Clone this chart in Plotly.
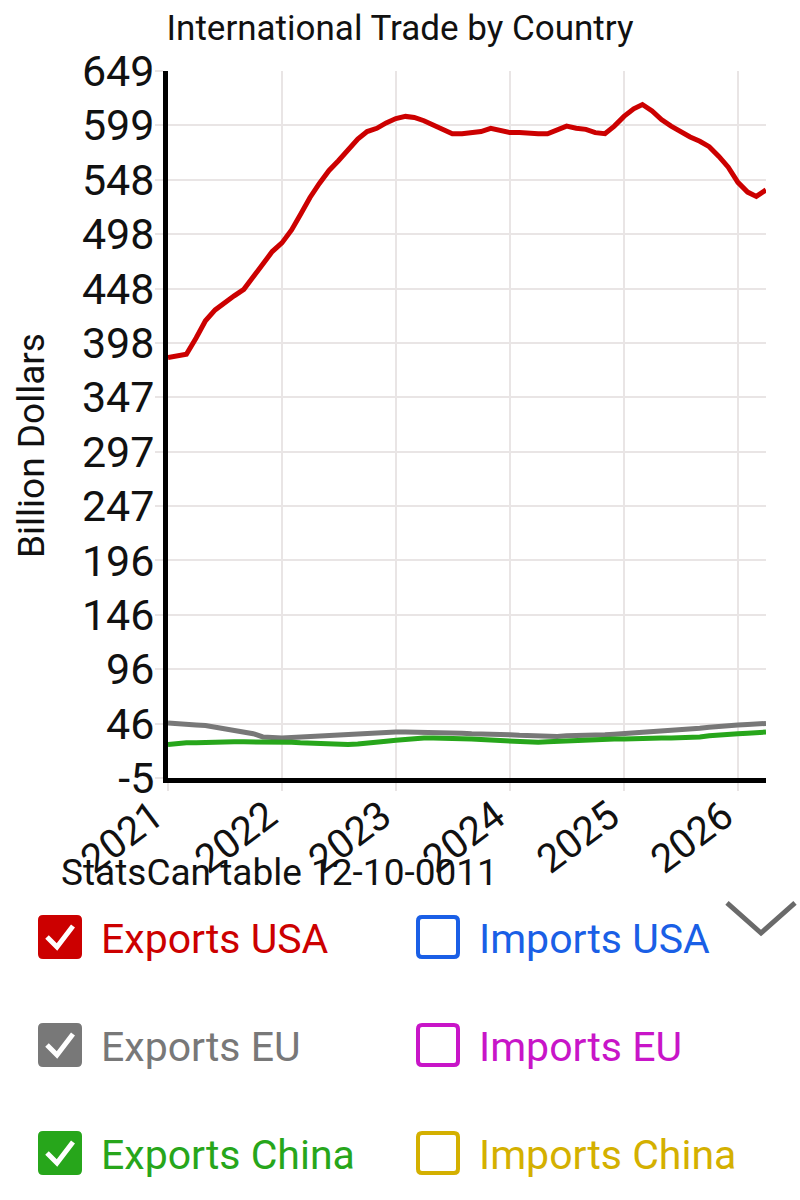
import pandas as pd
import plotly.graph_objects as go

# monthly values, Jan 2021 .. Apr 2026 (billion dollars)
months = pd.date_range("2021-01-01", "2026-04-01", freq="MS")

exports_usa = [
    384, 385, 387, 402, 418, 428, 435, 441, 447, 458, 471, 482,
    490, 502, 516, 532, 545, 557, 566, 576, 586, 593, 596, 601,
    605, 607, 606, 603, 599, 594, 591, 591, 592, 593, 596, 594,
    592, 592, 591, 591, 591, 595, 598, 596, 595, 592, 591, 598,
    607, 614, 618, 612, 604, 598, 593, 588, 584, 579, 570, 560,
    546, 537, 533, 539,
]
exports_eu = [
    46, 45, 44.5, 44, 43.5, 42, 41, 39.5, 38, 36, 33, 32,
    32, 32.5, 33, 33.5, 34, 34, 35, 35.5, 36, 36.5, 37, 37,
    37.5, 37.5, 37.5, 37.5, 37.5, 37, 37, 36.5, 36, 36, 35.5, 35.5,
    35, 34.5, 34, 34, 33.5, 33.5, 34, 34, 34.5, 35, 35, 35.5,
    36, 36.5, 37.5, 38, 39, 39.5, 40, 40.5, 41, 42, 43, 43.5,
    44, 44.5, 45, 45.5,
]
exports_china = [
    26, 27, 27.5, 27.5, 28, 28, 28, 28.5, 28.5, 28.5, 29, 29,
    28.5, 28, 27.5, 27, 26.5, 26, 26, 26, 26.5, 27, 28, 29,
    30, 31, 31.5, 32, 32, 32, 32, 31.5, 31, 30.5, 30, 29.5,
    29, 28.5, 28, 28, 28.5, 29, 29.5, 30, 30, 30.5, 30.5, 31,
    31, 31.5, 32, 32, 32, 32, 32, 32, 33, 34, 35, 35.5,
    36, 36.5, 37, 37.5,
]

y_min, y_max = -5, 649
y_tick_labels = ["-5", "46", "96", "146", "196", "247", "297",
                 "347", "398", "448", "498", "548", "599", "649"]

legend_labels = ["Exports USA", "Imports USA", "Exports EU",
                 "Imports EU", "Exports China", "Imports China"]
legend_colors = ["#cc0000", "#1a5fe6", "#787878",
                 "#c815c8", "#27a61b", "#d4b000"]
legend_checked = [True, False, True, False, True, False]

FONT = "Roboto"
GRID = "#e9e5e5"

# plot area in pixels, used to place the hand drawn legend
PL, PR, PT, PB = 168, 766, 71, 778


def px(x):
    return (x - PL) / (PR - PL)


def py(y):
    return (PB - y) / (PB - PT)


def rounded_box(x0, y0, x1, y1, r):
    pts = [
        ("M", x0 + r, y0), ("L", x1 - r, y0), ("Q", x1, y0, x1, y0 + r),
        ("L", x1, y1 - r), ("Q", x1, y1, x1 - r, y1), ("L", x0 + r, y1),
        ("Q", x0, y1, x0, y1 - r), ("L", x0, y0 + r), ("Q", x0, y0, x0 + r, y0),
    ]
    out = ""
    for p in pts:
        cmd, coords = p[0], p[1:]
        xy = []
        for i in range(0, len(coords), 2):
            xy.append(f"{px(coords[i]):.5f},{py(coords[i + 1]):.5f}")
        out += cmd + " ".join(xy) + " "
    return out + "Z"


fig = go.Figure()
fig.add_trace(go.Scatter(x=months, y=exports_usa, name="Exports USA",
                         mode="lines", line=dict(color=legend_colors[0], width=5)))
fig.add_trace(go.Scatter(x=months, y=exports_eu, name="Exports EU",
                         mode="lines", line=dict(color=legend_colors[2], width=5)))
fig.add_trace(go.Scatter(x=months, y=exports_china, name="Exports China",
                         mode="lines", line=dict(color=legend_colors[4], width=5)))

step = (y_max - y_min) / (len(y_tick_labels) - 1)
y_tick_vals = [y_min + i * step for i in range(len(y_tick_labels))]

fig.update_layout(
    width=800,
    height=1200,
    margin=dict(l=PL, r=800 - PR, t=PT, b=1200 - PB, autoexpand=False),
    paper_bgcolor="white",
    plot_bgcolor="white",
    showlegend=False,
    font=dict(family=FONT, color="#111111"),
    title=dict(text="International Trade by Country", x=0.5, xref="container",
               y=1 - 28 / 1200, yref="container", yanchor="middle",
               font=dict(size=35, color="#111111")),
    xaxis=dict(
        type="date", range=[months[0], months[-1]],
        tick0="2021-01-01", dtick="M12", tickformat="%Y",
        tickangle=-37, tickfont=dict(size=40),
        ticklabelstandoff=-14, ticklabelshift=-14,
        showgrid=True, gridcolor=GRID, gridwidth=2,
        ticks="outside", ticklen=8, tickcolor=GRID, tickwidth=2,
        showline=True, linecolor="black", linewidth=5,
        zeroline=False,
    ),
    yaxis=dict(
        range=[y_min, y_max], tickvals=y_tick_vals, ticktext=y_tick_labels,
        tickfont=dict(size=43), ticklabelstandoff=-8,
        showgrid=True, gridcolor=GRID, gridwidth=2,
        ticks="outside", ticklen=8, tickcolor=GRID, tickwidth=2,
        showline=True, linecolor="black", linewidth=5,
        zeroline=False,
    ),
)

annotations = [
    dict(text="Billion Dollars", textangle=-90, x=px(31), y=py(446),
         xref="paper", yref="paper", xanchor="center", yanchor="middle",
         showarrow=False, font=dict(size=37, color="#111111")),
    dict(text="StatsCan table 12-10-0011", x=px(59), y=py(872),
         xref="paper", yref="paper", xanchor="left", yanchor="middle",
         showarrow=False, font=dict(size=37, color="#111111")),
]
shapes = []

# checkbox legend, two columns
col_x = [38, 416]
row_y = [937, 1045, 1153]
box = 44
for i, label in enumerate(legend_labels):
    x0 = col_x[i % 2]
    yc = row_y[i // 2]
    y0, y1 = yc - box / 2, yc + box / 2
    color = legend_colors[i]
    if legend_checked[i]:
        shapes.append(dict(type="path", path=rounded_box(x0, y0, x0 + box, y1, 5),
                           xref="paper", yref="paper", fillcolor=color,
                           line=dict(width=0)))
        chk = [(x0 + 9, y0 + 22), (x0 + 19, y0 + 32), (x0 + 35, y0 + 11)]
        path = "M" + " L".join(f"{px(a):.5f},{py(b):.5f}" for a, b in chk)
        shapes.append(dict(type="path", path=path, xref="paper", yref="paper",
                           line=dict(color="white", width=5)))
    else:
        shapes.append(dict(type="path",
                           path=rounded_box(x0 + 2, y0 + 2, x0 + box - 2, y1 - 2, 4),
                           xref="paper", yref="paper", fillcolor="white",
                           line=dict(color=color, width=4)))
    annotations.append(dict(text=label, x=px(x0 + 61), y=py(yc + 2),
                            xref="paper", yref="paper", xanchor="left",
                            yanchor="middle", showarrow=False,
                            font=dict(size=41, color=color)))

# collapse chevron
chev = [(727, 903), (761, 933), (795, 903)]
shapes.append(dict(type="path",
                   path="M" + " L".join(f"{px(a):.5f},{py(b):.5f}" for a, b in chev),
                   xref="paper", yref="paper", line=dict(color="#6a6a6a", width=5)))

fig.update_layout(annotations=annotations, shapes=shapes)

fig.write_html("out.html", config={"displayModeBar": False},
               post_script="document.body.style.margin = '0';")
